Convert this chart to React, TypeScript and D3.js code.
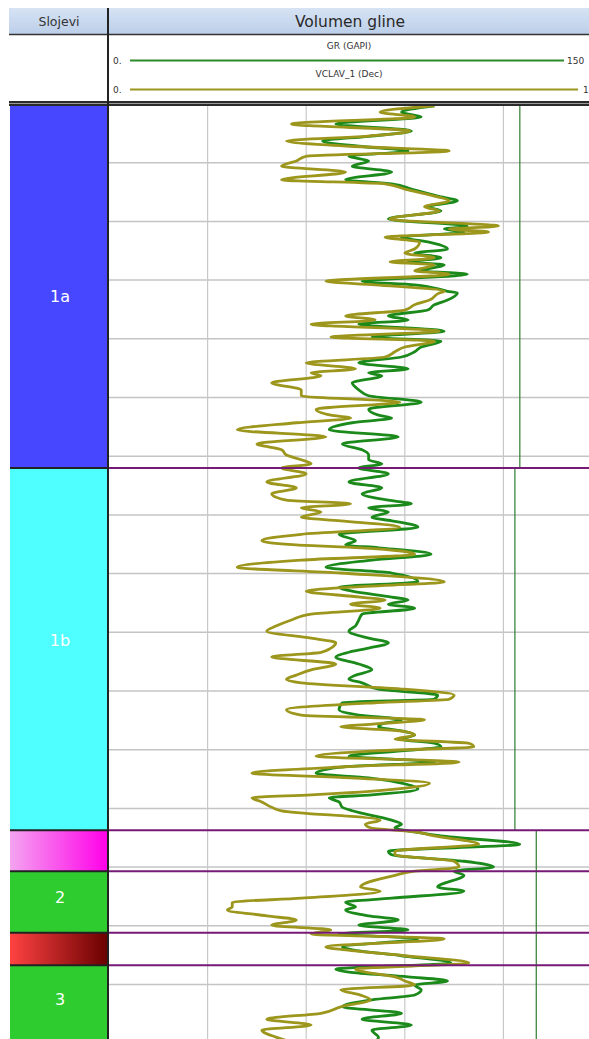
import * as d3 from 'd3';

// depth (m) sampled down the well, GR in GAPI, VCLAV_1 as fraction
const depth = [
  1000.3, 1001.4, 1002.2, 1003.4, 1004.6, 1005.5, 1006.3, 1007.2, 1008.0, 1008.9,
  1009.7, 1010.6, 1011.6, 1012.9, 1013.6, 1014.5, 1015.7, 1016.5, 1017.5, 1018.2,
  1019.6, 1020.8, 1021.3, 1021.8, 1022.7, 1023.5, 1024.7, 1025.4, 1026.2, 1026.9,
  1027.4, 1028.4, 1029.0, 1030.2, 1030.8, 1031.9, 1032.2, 1033.4, 1034.2, 1035.1,
  1036.1, 1036.8, 1037.5, 1038.7, 1039.7, 1040.4, 1041.4, 1042.2, 1043.1, 1044.1,
  1045.1, 1045.8, 1046.3, 1047.5, 1048.7, 1049.7, 1050.8, 1052.0, 1053.0, 1053.5,
  1054.3, 1055.5, 1056.7, 1057.9, 1058.9, 1059.8, 1060.6, 1061.3, 1062.0, 1063.0,
  1064.4, 1065.4, 1066.4, 1067.5, 1068.1, 1068.8, 1069.5, 1070.4, 1071.0, 1072.1,
  1073.3, 1074.4, 1075.1, 1075.6, 1076.7, 1077.7, 1078.9, 1079.9, 1081.4, 1082.3,
  1083.0, 1084.0, 1084.5, 1085.2, 1085.9, 1086.9, 1087.9, 1088.9, 1089.8, 1091.0,
  1091.8, 1092.7, 1093.4, 1094.2, 1095.4, 1096.4, 1097.3, 1098.0, 1098.6, 1099.7,
  1100.7, 1101.4, 1102.0, 1103.2, 1104.1, 1104.9, 1105.6, 1106.1, 1106.8, 1107.5,
  1108.2, 1108.9, 1109.5, 1110.2, 1111.1, 1112.1, 1112.9, 1114.0, 1114.8, 1115.7,
  1116.7, 1117.7, 1118.2, 1118.9, 1119.8, 1120.4, 1122.0, 1122.7, 1123.3, 1124.0,
  1124.7, 1126.1, 1127.3, 1127.9, 1129.0, 1130.0, 1130.7, 1131.4, 1133.4, 1134.1,
  1135.3, 1136.0, 1136.8, 1137.3, 1138.3, 1139.0, 1139.9, 1140.7, 1141.4, 1142.2,
  1143.6, 1144.1, 1145.1, 1146.3, 1147.4, 1147.9, 1148.7, 1149.4, 1150.1, 1150.9,
  1151.8, 1152.6, 1153.8, 1154.9, 1155.9, 1156.9, 1157.8, 1159.0, 1159.8,
];

const gr = [
  99, 89, 95, 69, 92, 79, 65, 76, 91, 73,
  79, 74, 86, 72, 86, 92, 100, 106, 97, 101,
  85, 109, 102, 108, 89, 97, 103, 93, 101, 91,
  102, 95, 109, 77, 93, 103, 106, 103, 99, 97,
  85, 91, 76, 102, 80, 101, 95, 93, 89, 76,
  91, 79, 83, 74, 76, 79, 95, 79, 82, 86,
  74, 67, 88, 71, 77, 79, 79, 83, 76, 85,
  73, 83, 77, 85, 92, 79, 85, 80, 86, 94,
  70, 75, 72, 82, 98, 80, 66, 86, 94, 70,
  74, 86, 91, 85, 93, 77, 76, 75, 73, 79,
  85, 79, 73, 69, 76, 80, 75, 73, 77, 82,
  100, 99, 71, 70, 76, 89, 83, 82, 89, 93,
  89, 99, 101, 89, 73, 99, 72, 63, 79, 89,
  94, 80, 67, 70, 71, 74, 86, 89, 87, 93,
  101, 125, 85, 86, 108, 117, 105, 108, 100, 108,
  86, 72, 75, 72, 79, 88, 76, 91, 70, 94,
  71, 74, 89, 104, 69, 73, 91, 103, 93, 95,
  93, 80, 71, 89, 77, 92, 80, 82, 81,
];

const vcl = [
  0.66, 0.55, 0.62, 0.37, 0.61, 0.52, 0.36, 0.49, 0.69, 0.40,
  0.38, 0.35, 0.48, 0.35, 0.56, 0.60, 0.66, 0.69, 0.64, 0.67,
  0.57, 0.79, 0.69, 0.77, 0.56, 0.63, 0.62, 0.60, 0.66, 0.57,
  0.66, 0.62, 0.69, 0.44, 0.54, 0.68, 0.67, 0.65, 0.62, 0.60,
  0.48, 0.54, 0.41, 0.67, 0.45, 0.66, 0.60, 0.58, 0.56, 0.40,
  0.50, 0.41, 0.43, 0.33, 0.39, 0.39, 0.59, 0.42, 0.45, 0.49,
  0.38, 0.26, 0.44, 0.30, 0.35, 0.36, 0.39, 0.41, 0.35, 0.40,
  0.32, 0.38, 0.33, 0.36, 0.49, 0.39, 0.43, 0.39, 0.47, 0.59,
  0.39, 0.31, 0.38, 0.51, 0.62, 0.39, 0.26, 0.47, 0.68, 0.49,
  0.40, 0.51, 0.56, 0.49, 0.55, 0.41, 0.37, 0.34, 0.32, 0.41,
  0.46, 0.45, 0.43, 0.33, 0.46, 0.41, 0.38, 0.36, 0.39, 0.60,
  0.70, 0.69, 0.54, 0.36, 0.39, 0.64, 0.54, 0.47, 0.59, 0.62,
  0.58, 0.73, 0.74, 0.54, 0.42, 0.71, 0.48, 0.29, 0.49, 0.65,
  0.58, 0.41, 0.29, 0.31, 0.33, 0.35, 0.55, 0.52, 0.53, 0.62,
  0.66, 0.75, 0.58, 0.58, 0.70, 0.71, 0.62, 0.58, 0.51, 0.55,
  0.39, 0.25, 0.25, 0.24, 0.32, 0.38, 0.33, 0.45, 0.41, 0.68,
  0.44, 0.48, 0.60, 0.73, 0.50, 0.52, 0.58, 0.60, 0.62, 0.47,
  0.51, 0.53, 0.47, 0.43, 0.32, 0.41, 0.31, 0.34, 0.37,
];

// zones (Slojevi)
const zoneNames = ['1a', '1b', '', '2', '', '3'];
const zoneTops = [1000, 1062.0, 1123.7, 1130.7, 1141.2, 1146.7];
const zoneBases = [1062.0, 1123.7, 1130.7, 1141.2, 1146.7, 1162];
const zoneLabelDepth = [1032.7, 1091.3, 0, 1135.1, 0, 1152.6];
const zoneFills = ['#4747ff', '#4fffff', 'url(#gPink)', '#2fcc2f', 'url(#gRed)', '#2fcc2f'];
// GR cutoff per zone (GAPI)
const zoneCutoff = [125, 123.5, 130, 130, 130, 130];

const grTicks = [30, 60, 90, 120];
const depthTicks = d3.range(1010, 1160, 10);

const FONT = '"DejaVu Sans", Verdana, sans-serif';

export default function App() {
  const W = 589;
  const H = 1039;
  const colL = 10;
  const colR = 108;
  const plotL = 109;
  const trackR = 602;
  const hdrTop = 8;
  const row1B = 34;
  const plotTop = 106;

  const xGR = d3.scaleLinear().domain([0, 150]).range([plotL, trackR]);
  const xVCL = d3.scaleLinear().domain([0, 1]).range([plotL, trackR]);
  const y = d3.scaleLinear().domain([1000, 1159.3]).range([104, 1039.1]);

  const pts = depth.map((d, i) => ({ d, gr: gr[i], vcl: vcl[i] }));

  const grLine = d3
    .line<{ d: number; gr: number; vcl: number }>()
    .x((p) => xGR(p.gr))
    .y((p) => y(p.d))
    .curve(d3.curveMonotoneY);
  const vclLine = d3
    .line<{ d: number; gr: number; vcl: number }>()
    .x((p) => xVCL(p.vcl))
    .y((p) => y(p.d))
    .curve(d3.curveMonotoneY);

  const zoneY = (d: number) => Math.max(plotTop, Math.min(H, y(d)));

  return (
    <svg
      width={W}
      height={H}
      style={{ position: 'absolute', left: 0, top: 0, background: '#fff' }}
      fontFamily={FONT}
    >
      <defs>
        <linearGradient id="gHdr" x1="0" y1="0" x2="0" y2="1">
          <stop offset="0" stopColor="#d6e3f4" />
          <stop offset="1" stopColor="#bccfe9" />
        </linearGradient>
        <linearGradient id="gPink" x1="0" y1="0" x2="1" y2="0">
          <stop offset="0" stopColor="#f4a4f0" />
          <stop offset="1" stopColor="#ff00e8" />
        </linearGradient>
        <linearGradient id="gRed" x1="0" y1="0" x2="1" y2="0">
          <stop offset="0" stopColor="#ff4242" />
          <stop offset="1" stopColor="#6a0000" />
        </linearGradient>
        <clipPath id="plotClip">
          <rect x={plotL} y={plotTop} width={W - plotL} height={H - plotTop} />
        </clipPath>
      </defs>

      {/* header */}
      <rect x={colL - 1} y={hdrTop} width={W - colL + 1} height={row1B - hdrTop} fill="url(#gHdr)" />
      <text x={(colL + colR) / 2} y={26} textAnchor="middle" fontSize={12.5} fill="#333">
        Slojevi
      </text>
      <text x={350} y={27} textAnchor="middle" fontSize={15.5} fill="#2a2a2a">
        Volumen gline
      </text>
      <line x1={colL - 1} x2={W} y1={row1B + 0.5} y2={row1B + 0.5} stroke="#333" strokeWidth={1.5} />

      {/* curve scales in header */}
      <text x={349} y={49} textAnchor="middle" fontSize={9} fill="#333">GR (GAPI)</text>
      <text x={113} y={64} fontSize={9} fill="#333">0.</text>
      <line x1={130} x2={564} y1={60.5} y2={60.5} stroke="#2c8a2c" strokeWidth={2} />
      <text x={567} y={64} fontSize={9} fill="#333">150</text>
      <text x={349} y={77} textAnchor="middle" fontSize={9} fill="#333">VCLAV_1 (Dec)</text>
      <text x={113} y={93} fontSize={9} fill="#333">0.</text>
      <line x1={130} x2={578} y1={89.5} y2={89.5} stroke="#9c961e" strokeWidth={2} />
      <text x={583} y={93} fontSize={9} fill="#333">1</text>

      <rect x={colL - 1} y={101} width={W - colL + 1} height={5} fill="#2b2b2b" />
      <line x1={colL - 1} x2={W} y1={103.5} y2={103.5} stroke="#9a9a9a" strokeWidth={1} />

      {/* zone column */}
      {zoneNames.map((n, i) => {
        const y0 = zoneY(zoneTops[i]);
        const y1 = zoneY(zoneBases[i]);
        return (
          <g key={`z-${i}`}>
            <rect x={colL} y={y0} width={colR - colL} height={y1 - y0} fill={zoneFills[i]} />
            {n && (
              <text
                x={(colL + colR) / 2 + 1}
                y={y(zoneLabelDepth[i])}
                dy="0.35em"
                textAnchor="middle"
                fontSize={16}
                fill="#fff"
              >
                {n}
              </text>
            )}
          </g>
        );
      })}
      {zoneTops.slice(1).map((d, i) => (
        <line key={`zb-${i}`} x1={colL} x2={colR} y1={y(d)} y2={y(d)} stroke="#222" strokeWidth={2} />
      ))}

      {/* track */}
      <g clipPath="url(#plotClip)">
        {depthTicks.map((t) => (
          <line key={`hg-${t}`} x1={plotL} x2={W} y1={y(t)} y2={y(t)} stroke="#c4c4c4" strokeWidth={1.5} />
        ))}
        {grTicks.map((t) => (
          <line key={`vg-${t}`} x1={xGR(t)} x2={xGR(t)} y1={plotTop} y2={H} stroke="#c8c8c8" strokeWidth={1.2} />
        ))}
        {zoneCutoff.map((c, i) => (
          <line
            key={`co-${i}`}
            x1={xGR(c)}
            x2={xGR(c)}
            y1={zoneY(zoneTops[i])}
            y2={zoneY(zoneBases[i])}
            stroke="#2f7d2f"
            strokeWidth={1.2}
          />
        ))}
        <path d={grLine(pts) ?? undefined} fill="none" stroke="#1b8a1b" strokeWidth={2.8} strokeLinejoin="round" />
        <path d={vclLine(pts) ?? undefined} fill="none" stroke="#9d961c" strokeWidth={2.8} strokeLinejoin="round" />
        {zoneTops.slice(1).map((d, i) => (
          <line key={`zl-${i}`} x1={plotL} x2={W} y1={y(d)} y2={y(d)} stroke="#761a76" strokeWidth={2} />
        ))}
      </g>

      <line x1={colR} x2={colR} y1={hdrTop} y2={H} stroke="#222" strokeWidth={2} />
    </svg>
  );
}
